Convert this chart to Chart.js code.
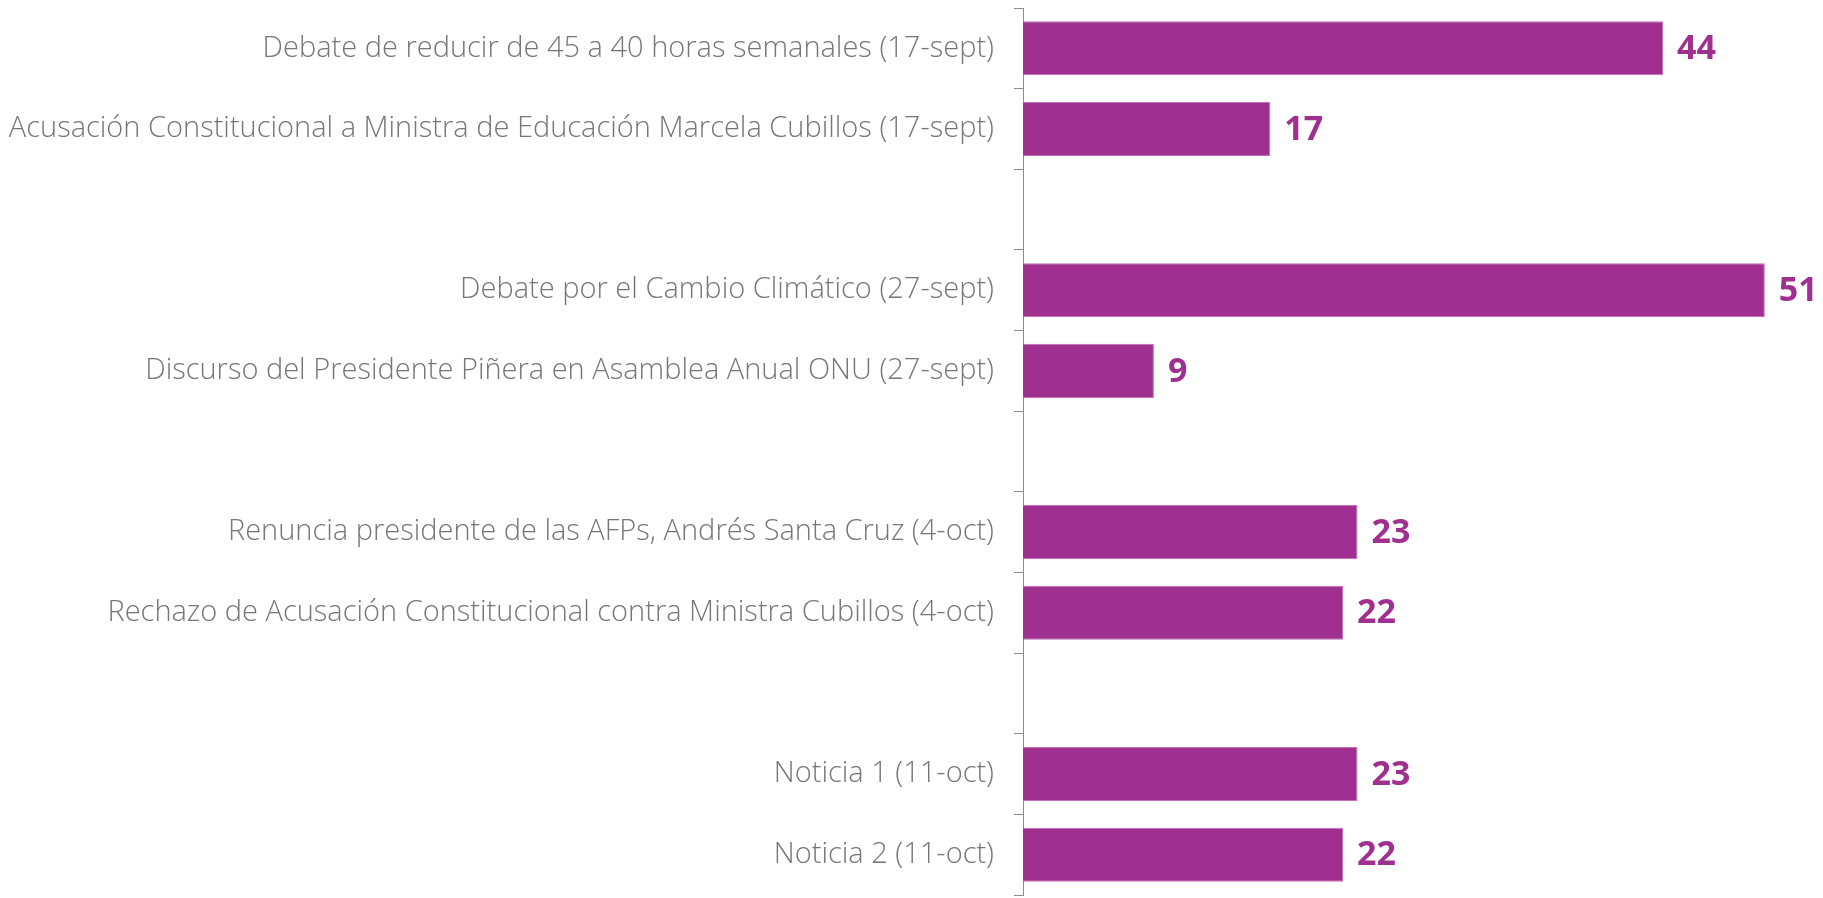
<!DOCTYPE html>
<html>
<head>
<meta charset="utf-8">
<script src="https://cdn.jsdelivr.net/npm/chart.js@4/dist/chart.umd.min.js"></script>
<style>
  html, body { margin: 0; padding: 0; background: #ffffff; overflow: hidden; }
  #wrap { width: 1823px; height: 898px; position: relative; }
</style>
</head>
<body>
<div id="wrap"><canvas id="c"></canvas></div>
<script>
// Events (empty strings are spacer rows between the weekly groups)
const categories = [
  "Debate de reducir de 45 a 40 horas semanales (17-sept)",
  "Acusación Constitucional a Ministra de Educación Marcela Cubillos (17-sept)",
  "",
  "Debate por el Cambio Climático (27-sept)",
  "Discurso del Presidente Piñera en Asamblea Anual ONU (27-sept)",
  "",
  "Renuncia presidente de las AFPs, Andrés Santa Cruz (4-oct)",
  "Rechazo de Acusación Constitucional contra Ministra Cubillos (4-oct)",
  "",
  "Noticia 1 (11-oct)",
  "Noticia 2 (11-oct)"
];
const values = [44, 17, null, 51, 9, null, 23, 22, null, 23, 22];

const BAR_COLOR = "#A0308F";
const TEXT_GRAY = "#767676";
const AXIS_GRAY = "#8C8C8C";

// Writes each bar's value just past its end
const valueLabels = {
  id: "valueLabels",
  afterDatasetsDraw(chart) {
    const ctx = chart.ctx;
    const meta = chart.getDatasetMeta(0);
    ctx.save();
    ctx.font = "bold 34px 'Open Sans'";
    ctx.fillStyle = BAR_COLOR;
    ctx.textAlign = "left";
    ctx.textBaseline = "middle";
    meta.data.forEach((bar, i) => {
      const v = chart.data.datasets[0].data[i];
      if (v === null || v === undefined) return;
      ctx.fillText(String(v), bar.x + 14, bar.y + 1);
    });
    ctx.restore();
  }
};

new Chart(document.getElementById("c"), {
  type: "bar",
  data: {
    labels: categories,
    datasets: [{
      data: values,
      backgroundColor: BAR_COLOR,
      borderColor: "#C46FB8",
      borderWidth: 1,
      borderSkipped: "left",
      categoryPercentage: 1.0,
      barPercentage: 0.67
    }]
  },
  options: {
    indexAxis: "y",
    responsive: true,
    maintainAspectRatio: false,
    animation: false,
    layout: { padding: { top: 8, bottom: 3, left: 0, right: 0 } },
    plugins: {
      legend: { display: false },
      tooltip: { enabled: false }
    },
    scales: {
      x: {
        display: false,
        min: 0,
        max: 55
      },
      y: {
        afterFit(scale) {
          scale.width = 1023;
          scale.paddingTop = 0;
          scale.paddingBottom = 0;
        },
        border: { display: true, color: AXIS_GRAY, width: 1 },
        grid: {
          offset: true,
          drawOnChartArea: false,
          drawTicks: true,
          tickLength: 9,
          color: AXIS_GRAY
        },
        ticks: {
          color: TEXT_GRAY,
          padding: 20,
          font: { family: "'Open Sans'", size: 29, weight: 300 },
          autoSkip: false
        }
      }
    }
  },
  plugins: [valueLabels]
});
</script>
</body>
</html>
